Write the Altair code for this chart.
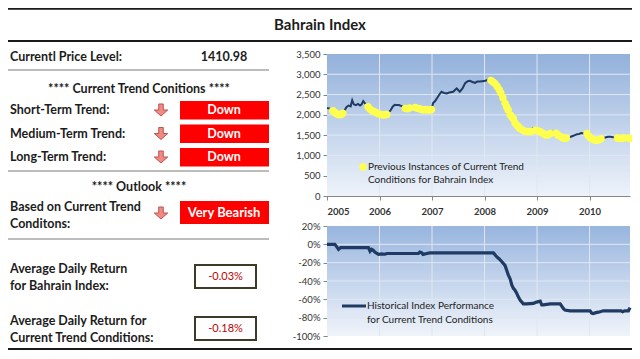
import altair as alt
import pandas as pd

# ---------------- data ----------------
TITLE = "Bahrain Index"
price_label = "Currentl Price Level:"
price_value = "1410.98"
trend_header = "****  Current Trend Conitions  ****"
trend_labels = ["Short-Term Trend:", "Medium-Term Trend:", "Long-Term Trend:"]
trend_values = ["Down", "Down", "Down"]
outlook_header = "****  Outlook  ****"
outlook_label = ["Based on Current Trend", "Conditons:"]
outlook_value = "Very Bearish"
ret_labels = [["Average Daily Return", "for Bahrain Index:"],
              ["Average Daily Return for", "Current Trend Conditions:"]]
ret_values = ["-0.03%", "-0.18%"]
legend_top = ["Previous Instances of Current Trend", "Conditions for Bahrain Index"]
legend_bottom = ["Historical Index Performance", "for Current Trend Conditions"]

year_ticks = [2005, 2006, 2007, 2008, 2009, 2010]
price_ticks = [0, 500, 1000, 1500, 2000, 2500, 3000, 3500]
perf_ticks = [0.2, 0.0, -0.2, -0.4, -0.6, -0.8, -1.0]
x_domain = [2005.0, 2010.77]

price_years = [
    2005.00, 2005.04, 2005.08,
    2005.11, 2005.15, 2005.19, 2005.23, 2005.27, 2005.30,
    2005.33, 2005.37, 2005.41, 2005.45, 2005.48, 2005.51, 2005.55, 2005.59, 2005.63, 2005.66, 2005.69, 2005.72, 2005.75,
    2005.78, 2005.82, 2005.86, 2005.90, 2005.94, 2005.98, 2006.02, 2006.06, 2006.10, 2006.14,
    2006.17, 2006.21, 2006.25, 2006.29, 2006.33, 2006.37, 2006.41, 2006.45,
    2006.49, 2006.53, 2006.57,
    2006.60, 2006.64,
    2006.68, 2006.72, 2006.76, 2006.80, 2006.84, 2006.88, 2006.92, 2006.96, 2006.99,
    2007.02, 2007.06, 2007.10, 2007.15, 2007.18, 2007.23, 2007.28, 2007.33, 2007.40, 2007.47, 2007.53, 2007.58,
    2007.63, 2007.68, 2007.72, 2007.77, 2007.82, 2007.86, 2007.91, 2007.96, 2008.01, 2008.06, 2008.10,
    2008.12, 2008.16, 2008.20, 2008.24, 2008.28, 2008.31, 2008.35, 2008.39, 2008.42, 2008.45, 2008.49,
    2008.52, 2008.55, 2008.58, 2008.62, 2008.65, 2008.68, 2008.72, 2008.76, 2008.80, 2008.84, 2008.88,
    2008.91, 2008.94,
    2008.97, 2009.01, 2009.05, 2009.09, 2009.13, 2009.17, 2009.21, 2009.25,
    2009.28, 2009.32,
    2009.36, 2009.40, 2009.44, 2009.48, 2009.52, 2009.56,
    2009.60, 2009.64, 2009.68, 2009.72, 2009.76, 2009.80, 2009.84, 2009.88, 2009.92,
    2009.95, 2009.98, 2010.02, 2010.06, 2010.10, 2010.14, 2010.18, 2010.22,
    2010.25, 2010.30, 2010.35, 2010.40, 2010.45, 2010.50,
    2010.53, 2010.57, 2010.61, 2010.65,
    2010.68, 2010.72,
    2010.75, 2010.77,
]
price_vals = [
    2170, 2160, 2140,
    2100, 2060, 2020, 2000, 2010, 2040,
    2100, 2190, 2230, 2210, 2360, 2260, 2240, 2270, 2230, 2260, 2340, 2290, 2250,
    2200, 2140, 2100, 2080, 2050, 2030, 2010, 2000, 1995, 2010,
    2060, 2110, 2200, 2250, 2240, 2240, 2220, 2200,
    2160, 2150, 2170,
    2210, 2200,
    2180, 2160, 2150, 2130, 2120, 2130, 2120, 2120, 2130,
    2290, 2340, 2420, 2520, 2570, 2540, 2530, 2550, 2570, 2650, 2570, 2650,
    2780, 2830, 2840, 2810, 2790, 2820, 2820, 2830, 2840, 2860, 2880,
    2850, 2810, 2770, 2700, 2620, 2540, 2420, 2290, 2200, 2120, 2000,
    1950, 1900, 1800, 1740, 1700, 1660, 1630, 1600, 1590, 1585, 1590,
    1660, 1670,
    1620, 1610, 1590, 1560, 1530, 1500, 1510, 1540,
    1580, 1590,
    1550, 1500, 1470, 1440, 1420, 1430,
    1440, 1460, 1480, 1500, 1520, 1530, 1550, 1540, 1570,
    1540, 1480, 1430, 1400, 1380, 1370, 1390, 1410,
    1420, 1440, 1460, 1460, 1450, 1450,
    1430, 1420, 1420, 1430,
    1460, 1470,
    1430, 1410,
]
price_match = [
    0, 0, 0,
    1, 1, 1, 1, 1, 1,
    0, 0, 0, 0, 0, 0, 0, 0, 0, 0, 0, 0, 0,
    1, 1, 1, 1, 1, 1, 1, 1, 1, 1,
    0, 0, 0, 0, 0, 0, 0, 0,
    1, 1, 1,
    0, 0,
    1, 1, 1, 1, 1, 1, 1, 1, 1,
    0, 0, 0, 0, 0, 0, 0, 0, 0, 0, 0, 0,
    0, 0, 0, 0, 0, 0, 0, 0, 0, 0, 0,
    1, 1, 1, 1, 1, 1, 1, 1, 1, 1, 1,
    1, 1, 1, 1, 1, 1, 1, 1, 1, 1, 1,
    0, 0,
    1, 1, 1, 1, 1, 1, 1, 1,
    0, 0,
    1, 1, 1, 1, 1, 1,
    0, 0, 0, 0, 0, 0, 0, 0, 0,
    1, 1, 1, 1, 1, 1, 1, 1,
    0, 0, 0, 0, 0, 0,
    1, 1, 1, 1,
    0, 0,
    1, 1,
]

perf_years = [2005.00, 2005.15, 2005.19, 2005.22, 2005.26, 2005.30, 2005.79, 2005.82, 2005.85,
              2005.88, 2005.91, 2005.98, 2006.04, 2006.10, 2006.14, 2006.74, 2006.77, 2006.80,
              2006.83, 2006.90, 2006.96, 2008.17, 2008.23, 2008.28, 2008.33, 2008.39, 2008.42,
              2008.45, 2008.49, 2008.52, 2008.55, 2008.58, 2008.61, 2008.64, 2008.68, 2008.74,
              2008.80, 2008.93, 2008.99, 2009.06, 2009.09, 2009.12, 2009.25, 2009.44, 2009.50,
              2009.53, 2009.63, 2010.01, 2010.04, 2010.07, 2010.12, 2010.17, 2010.26, 2010.60,
              2010.63, 2010.67, 2010.74, 2010.77]
perf_vals = [0, 0, -0.03, -0.055, -0.035, -0.036, -0.036, -0.075, -0.055,
             -0.065, -0.085, -0.11, -0.105, -0.108, -0.10, -0.10, -0.085, -0.09,
             -0.11, -0.10, -0.094, -0.094, -0.135, -0.16, -0.19, -0.23, -0.28,
             -0.33, -0.38, -0.445, -0.48, -0.50, -0.53, -0.57, -0.61, -0.65,
             -0.65, -0.645, -0.63, -0.62, -0.66, -0.66, -0.65, -0.65, -0.70,
             -0.717, -0.725, -0.725, -0.75, -0.755, -0.745, -0.74, -0.725, -0.725,
             -0.735, -0.725, -0.725, -0.69]

assert len(price_years) == len(price_vals) == len(price_match)
assert len(perf_years) == len(perf_vals)

# ---------------- layout ----------------
FONT = "Lato"
W, H = 624, 345
X0, X1 = 319, 622
TOP_RANGE = [188, 46]
BOT_RANGE = [328, 218]
NAVY = "#1f3a63"
YELLOW = "#ffff4d"
AXIS_GREY = "#868686"
GRID = "#dfe7f3"

one = alt.Data(values=[{"k": 0}])


def text(s, x, y, size=12.5, weight="bold", align="left", color="#1c1c1c"):
    return alt.Chart(one).mark_text(
        text=s, font=FONT, fontSize=size, fontWeight=weight, align=align,
        baseline="middle", color=color
    ).encode(x=alt.value(x), y=alt.value(y))


def hline(x1, x2, y, color, w):
    return alt.Chart(one).mark_rule(color=color, strokeWidth=w).encode(
        x=alt.value(x1), x2=alt.value(x2), y=alt.value(y))


def box(x1, x2, y1, y2, fill, stroke=None, sw=0):
    kw = dict(fill=fill)
    if stroke:
        kw.update(stroke=stroke, strokeWidth=sw)
    return alt.Chart(one).mark_rect(**kw).encode(
        x=alt.value(x1), x2=alt.value(x2), y=alt.value(y1), y2=alt.value(y2))


ARROW = "M-0.32,-0.85 L0.32,-0.85 L0.32,0 L0.95,0 L0,0.85 L-0.95,0 L-0.32,0 Z"


def arrow(x, y):
    return alt.Chart(one).mark_point(
        shape=ARROW, filled=True, fill="#f08a84", stroke="#c0504d",
        strokeWidth=1, size=200, opacity=1
    ).encode(x=alt.value(x), y=alt.value(y))


xs = alt.Scale(domain=x_domain, range=[X0, X1], nice=False, zero=False)
xax = alt.Axis(orient="bottom", offset=-(H - TOP_RANGE[0]), values=year_ticks, format="d",
               title=None, grid=False, domainColor=AXIS_GREY, tickColor=AXIS_GREY, tickSize=4,
               labelFont=FONT, labelFontSize=9.5, labelFontWeight="bold", labelColor="#333333",
               labelPadding=6)
ys_top = alt.Scale(domain=[0, 3500], range=TOP_RANGE, nice=False, zero=False)
yax_top = alt.Axis(orient="left", offset=-X0, values=price_ticks,
                   labelExpr="format(datum.value, ',')", title=None,
                   grid=False, domainColor=AXIS_GREY, tickColor=AXIS_GREY, tickSize=4,
                   labelFont=FONT, labelFontSize=9.5, labelColor="#333333", labelPadding=3)
ys_bot = alt.Scale(domain=[-1.0, 0.2], range=BOT_RANGE, nice=False, zero=False)
yax_bot = alt.Axis(orient="left", offset=-X0, values=perf_ticks,
                   labelExpr="replace(format(datum.value, '.0%'), '\u2212', '-')",
                   title=None, grid=False, domainColor=AXIS_GREY, tickColor=AXIS_GREY,
                   tickSize=4, labelFont=FONT, labelFontSize=9.5, labelColor="#333333",
                   labelPadding=3)

df_price = pd.DataFrame({"year": price_years, "value": price_vals, "match": price_match})
df_perf = pd.DataFrame({"year": perf_years, "perf": perf_vals})


def gradient(top, bottom):
    return alt.Gradient(gradient="linear",
                        stops=[alt.GradientStop(color=top, offset=0),
                               alt.GradientStop(color=bottom, offset=1)],
                        x1=0, x2=0, y1=0, y2=1)


# top chart
bg_top = alt.Chart(pd.DataFrame({"x0": [x_domain[0]], "x1": [x_domain[1]], "y0": [0], "y1": [3500]})
                   ).mark_rect(fill=gradient("#93b1db", "#eef3fa")).encode(
    x=alt.X("x0:Q", scale=xs, axis=xax), x2="x1",
    y=alt.Y("y0:Q", scale=ys_top, axis=None), y2="y1")
hgrid_top = alt.Chart(pd.DataFrame({"v": price_ticks[1:-1], "x0": x_domain[0], "x1": x_domain[1]})
                      ).mark_rule(color=GRID, strokeWidth=1).encode(
    x=alt.X("x0:Q", scale=xs, axis=xax), x2="x1",
    y=alt.Y("v:Q", scale=ys_top, axis=None))
vgrid_top = alt.Chart(pd.DataFrame({"v": year_ticks[1:], "y0": 0, "y1": 3500})
                      ).mark_rule(color=GRID, strokeWidth=1).encode(
    x=alt.X("v:Q", scale=xs, axis=xax),
    y=alt.Y("y0:Q", scale=ys_top, axis=None), y2="y1")
line_top = alt.Chart(df_price).mark_line(color=NAVY, strokeWidth=2).encode(
    x=alt.X("year:Q", scale=xs, axis=xax),
    y=alt.Y("value:Q", scale=ys_top, axis=yax_top))
pts_top = alt.Chart(df_price).transform_filter("datum.match == 1").mark_circle(
    size=55, color=YELLOW, opacity=1).encode(
    x=alt.X("year:Q", scale=xs, axis=xax),
    y=alt.Y("value:Q", scale=ys_top, axis=None))

# bottom chart
bg_bot = alt.Chart(pd.DataFrame({"x0": [x_domain[0]], "x1": [x_domain[1]], "y0": [-1.0], "y1": [0.2]})
                   ).mark_rect(fill=gradient("#98b5de", "#f0f4fa")).encode(
    x=alt.X("x0:Q", scale=xs, axis=xax), x2="x1",
    y=alt.Y("y0:Q", scale=ys_bot, axis=None), y2="y1")
hgrid_bot = alt.Chart(pd.DataFrame({"v": perf_ticks[1:-1], "x0": x_domain[0], "x1": x_domain[1]})
                      ).mark_rule(color=GRID, strokeWidth=1).encode(
    x=alt.X("x0:Q", scale=xs, axis=xax), x2="x1",
    y=alt.Y("v:Q", scale=ys_bot, axis=None))
vgrid_bot = alt.Chart(pd.DataFrame({"v": year_ticks[1:], "y0": -1.0, "y1": 0.2})
                      ).mark_rule(color=GRID, strokeWidth=1).encode(
    x=alt.X("v:Q", scale=xs, axis=xax),
    y=alt.Y("y0:Q", scale=ys_bot, axis=None), y2="y1")
line_bot = alt.Chart(df_perf).mark_line(color=NAVY, strokeWidth=3.2).encode(
    x=alt.X("year:Q", scale=xs, axis=xax),
    y=alt.Y("perf:Q", scale=ys_bot, axis=yax_bot))

layers = [bg_top, hgrid_top, vgrid_top, line_top, pts_top,
          bg_bot, hgrid_bot, vgrid_bot, line_bot]

# legends
layers += [
    alt.Chart(one).mark_circle(size=55, color=YELLOW, opacity=1).encode(
        x=alt.value(355), y=alt.value(159)),
    text(legend_top[0], 360, 159, size=10, weight="normal", color="#222222"),
    text(legend_top[1], 360, 172, size=10, weight="normal", color="#222222"),
    hline(334, 358, 298, NAVY, 3),
    text(legend_bottom[0], 359, 298, size=10, weight="normal", color="#222222"),
    text(legend_bottom[1], 359, 312, size=10, weight="normal", color="#222222"),
]

# header and frame lines
layers += [
    hline(0, W, 0.8, "#1a1a1a", 2),
    text(TITLE, 312, 17, size=15, align="center"),
    hline(0, W, 33, "#1a1a1a", 2),
    hline(0, W, 341, "#1a1a1a", 2),
]

# left panel
GREY_LINE = "#7a7a7a"
layers += [
    text(price_label, 2, 49),
    text(price_value, 216, 49, align="center"),
    hline(0, 261, 62, GREY_LINE, 1.2),
    text(trend_header, 131, 81, align="center"),
]
row_y = [102, 125.5, 149]
for lab, val, y in zip(trend_labels, trend_values, row_y):
    layers += [
        text(lab, 2, y),
        arrow(153, y),
        box(172, 261, y - 9, y + 9.5, "#ff0000"),
        text(val, 216, y, color="white", align="center"),
    ]
layers += [
    hline(0, 261, 163, GREY_LINE, 1.2),
    text(outlook_header, 131, 179, align="center"),
    text(outlook_label[0], 2, 199),
    text(outlook_label[1], 2, 216),
    arrow(153, 205),
    box(172, 261, 193, 216, "#ff0000"),
    text(outlook_value, 216, 204.5, size=13, color="white", align="center"),
    hline(0, 261, 231, GREY_LINE, 1.2),
]
ret_y = [269, 321]
for (l1, l2), val, y in zip(ret_labels, ret_values, ret_y):
    layers += [
        text(l1, 2, y - 8),
        text(l2, 2, y + 9),
        box(187, 248, y - 12, y + 11, "white", "#3d3a28", 2),
        text(val, 217.5, y, size=11, weight="normal", color="#c00000", align="center"),
    ]

chart = alt.layer(*layers).resolve_scale(y="independent").properties(
    width=W, height=H, padding=0,
    autosize=alt.AutoSizeParams(type="none"), background="white"
).configure_view(stroke=None)

chart.save("out.html", embed_options={"renderer": "svg", "actions": False})
